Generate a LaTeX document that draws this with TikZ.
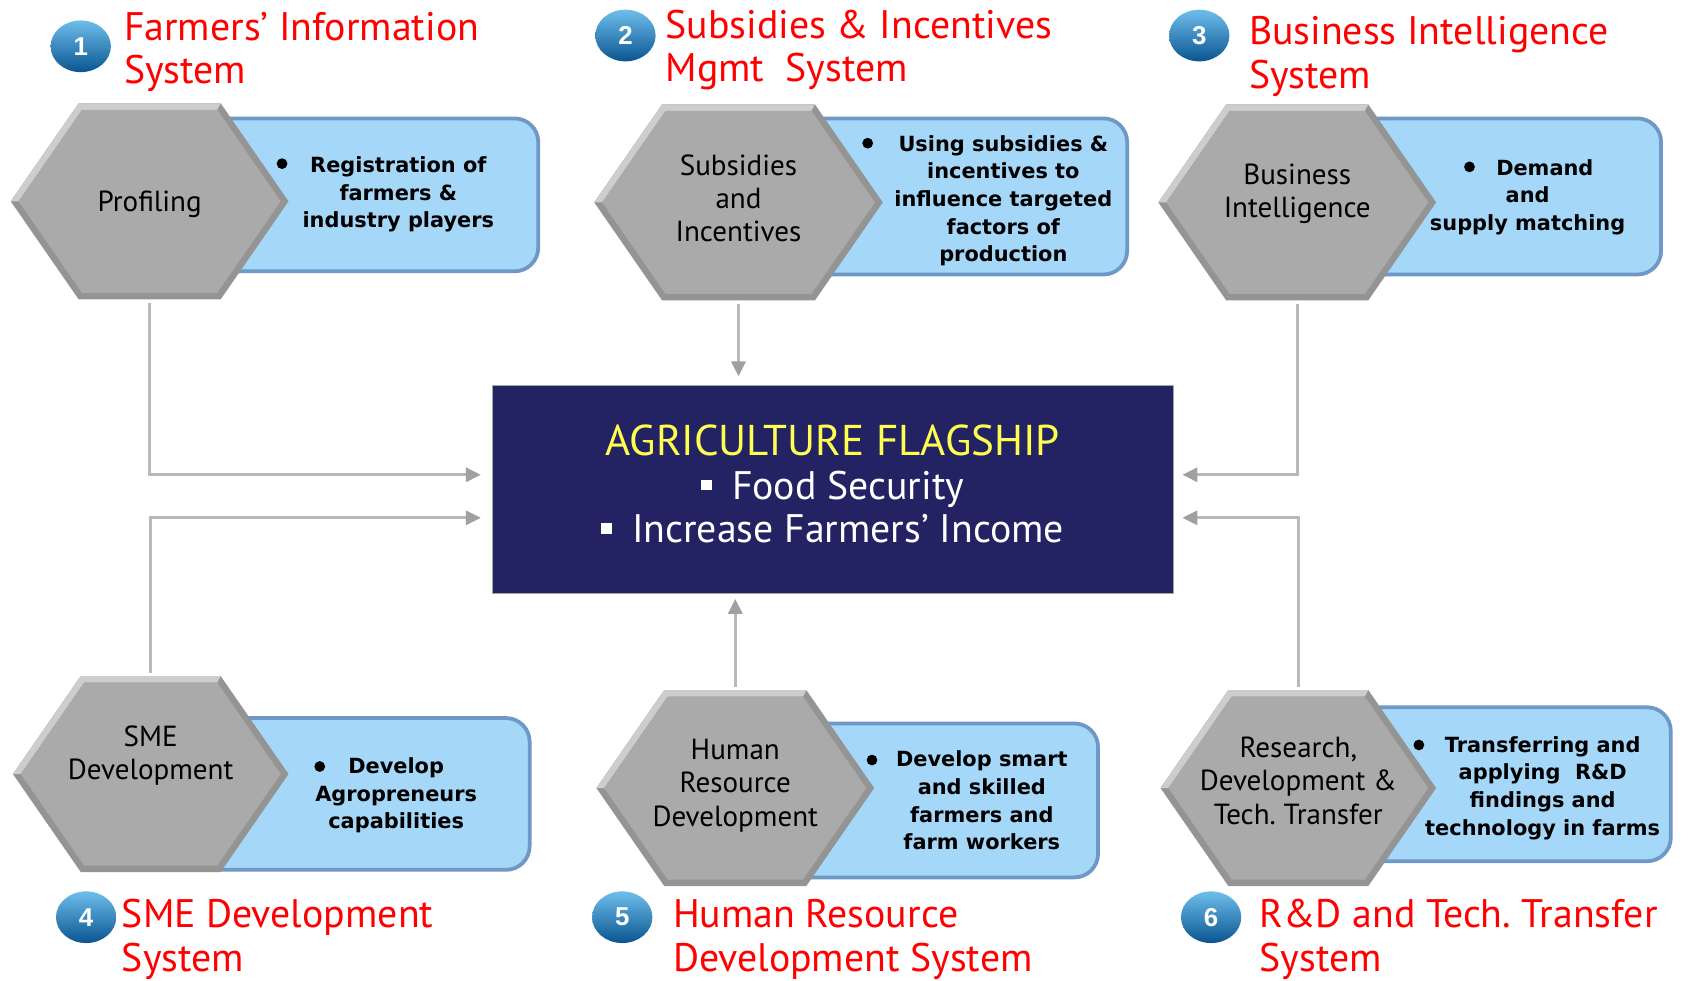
\documentclass[tikz,border=0pt]{standalone}
\usepackage{fontspec}
\setmainfont{PT Sans}
\newfontfamily\boxfont{DejaVu Sans}
\newfontfamily\numfont{Liberation Sans}
\usetikzlibrary{arrows.meta,shapes.geometric}

\definecolor{sysred}{RGB}{255,0,0}
\definecolor{hexface}{RGB}{170,170,170}
\definecolor{hexlight}{RGB}{205,205,205}
\definecolor{hexdark}{RGB}{148,148,148}
\definecolor{boxfill}{RGB}{164,215,248}
\definecolor{boxedge}{RGB}{110,152,198}
\definecolor{flagblue}{RGB}{35,35,100}
\definecolor{flagyellow}{RGB}{255,255,80}
\definecolor{linkgray}{RGB}{185,185,185}
\definecolor{arrowgray}{RGB}{160,160,160}
\definecolor{badgetop}{RGB}{110,190,235}
\definecolor{badgemid}{RGB}{30,140,205}
\definecolor{badgebot}{RGB}{10,85,145}

\newcommand\hexnode[6]{%
  \begin{scope}[shift={(#2,#3)}]
    \fill[hexdark] (-#4,0) -- ({-#4+63},-91) -- ({#4-63},-91) -- (#4,0) -- ({#4-63},91) -- ({-#4+63},91) -- cycle;
    \fill[hexlight] (-#4,0) -- ({-#4+63},-91) -- ({#4-63},-91) -- ({#4-66.2},-85) -- ({-#4+66.2},-85) -- ({-#4+7.3},0) -- cycle;
    \fill[hexface] ({-#4+7.3},0) -- ({-#4+66.2},-85) -- ({#4-66.2},-85) -- ({#4-7.3},0) -- ({#4-66.2},85) -- ({-#4+66.2},85) -- cycle;
  \end{scope}
  \node[hexlabel, minimum width={2*#4}, text depth=#5] (#1) at (#2,#3) {#6};
}
\newcommand\sqbullet{\raisebox{0.22em}{\rule{0.27em}{0.27em}}\hspace{0.5em}}

\begin{document}
\begin{tikzpicture}[x=1pt, y=-1pt,
  systitle/.style={anchor=base west, align=left, text=sysred, inner sep=0pt, font=\fontsize{37}{40.5}\selectfont},
  badge/.style={ellipse, minimum width=56pt, minimum height=48pt, inner sep=0pt, top color=badgetop, middle color=badgemid, bottom color=badgebot, text=white, font=\numfont\bfseries\fontsize{24}{24}\selectfont},
  hexlabel/.style={minimum height=182pt, inner sep=0pt, align=center, font=\fontsize{27}{31}\selectfont},
  infobox/.style={fill=boxfill, draw=boxedge, line width=3.5pt, rounded corners=22pt},
  infotext/.style={align=center, inner sep=0pt, font=\boxfont\bfseries\fontsize{19.4}{25.7}\selectfont},
  flagbox/.style={fill=flagblue, draw=black!35, line width=0.6pt, minimum width=633pt, minimum height=193pt, inner sep=0pt, align=center, text=white, text depth=10pt, font=\fontsize{37}{40.5}\selectfont},
  link/.style={draw=linkgray, line width=3pt, shorten <=3pt, -{Triangle[length=14pt,width=13pt,color=arrowgray]}}
]
\fill[white] (0,0) rectangle (1568,911);
\useasboundingbox (0,0) rectangle (1568,911);

\draw[infobox] (139,110) rectangle (500,252);
\draw[infobox] (686,110) rectangle (1047,255);
\draw[infobox] (1205,110) rectangle (1543,255);
\draw[infobox] (140,667) rectangle (492,808);
\draw[infobox] (683,672) rectangle (1020,815);
\draw[infobox] (1206,657) rectangle (1552,800);

\hexnode{prof}{139}{187}{129}{0pt}{Profiling}
\hexnode{subs}{686}{188}{134}{8pt}{Subsidies\\and\\Incentives}
\hexnode{busi}{1205}{188}{129}{22pt}{Business\\Intelligence}
\hexnode{sme}{140}{719}{128}{40pt}{SME\\Development}
\hexnode{hrd}{683}{732}{129}{10pt}{Human\\Resource\\Development}
\hexnode{rnd}{1206}{732}{128}{14pt}{Research,\\Development \&\\Tech.\ Transfer}

\foreach \bx/\by in {262/152, 806/133, 1365/155, 297/712, 810/706, 1318/692}
  \fill (\bx,\by) circle (5);

\node[infotext] (proftxt) at (370,180.5) {Registration of\\farmers \&\\industry players};
\node[infotext] (substxt) at (932,186.5) {Using subsidies \&\\incentives to\\influence targeted\\factors of\\production};
\node[infotext] (busitxt) at (1419,183) {\hspace*{32pt}Demand\\and\\supply matching};
\node[infotext] (smetxt) at (368,739) {Develop\\Agropreneurs\\capabilities};
\node[infotext] (hrdtxt) at (912,743.5) {Develop smart\\and skilled\\farmers and\\farm workers};
\node[infotext] (rndtxt) at (1433,732) {Transferring and\\applying~~R\&D\\findings and\\technology in farms};

\node[flagbox] (flag) at (773.5,454.5) {{\fontsize{40}{40.5}\selectfont\color{flagyellow}AGRICULTURE FLAGSHIP}\\\sqbullet Food Security\\\sqbullet Increase Farmers’ Income};

\node[badge] (b1) at (75,43) {1};
\node[badge] (b2) at (581,33) {2};
\node[badge] (b3) at (1114,33) {3};
\node[badge] (b4) at (80,852) {4};
\node[badge] (b5) at (578,852) {5};
\node[badge] (b6) at (1125,852) {6};

\node[systitle] (fis) at (115,78) {Farmers’ Information\\System};
\node[systitle] (sims) at (618,76) {Subsidies \& Incentives\\Mgmt~~System};
\node[systitle] (bis) at (1160,82) {Business Intelligence\\System};
\node[systitle] (smes) at (113,902) {SME Development\\System};
\node[systitle] (hrds) at (625,902) {Human Resource\\Development System};
\node[systitle] (rnds) at (1170,902) {R\&D and Tech.\ Transfer\\System};

\draw[link, shorten >=10pt] (prof.south) |- ([yshift=13.5pt]flag.west);
\draw[link, shorten >=10pt] (sme.north) |- ([yshift=-26.5pt]flag.west);
\draw[link, shorten >=8pt] (subs.south) -- (subs.south |- flag.north);
\draw[link, shorten >=5pt] (hrd.north) -- (hrd.north |- flag.south);
\draw[link, shorten >=8pt] (busi.south) |- ([yshift=13.5pt]flag.east);
\draw[link, shorten >=8pt] (rnd.north) |- ([yshift=-26.5pt]flag.east);
\end{tikzpicture}
\end{document}
